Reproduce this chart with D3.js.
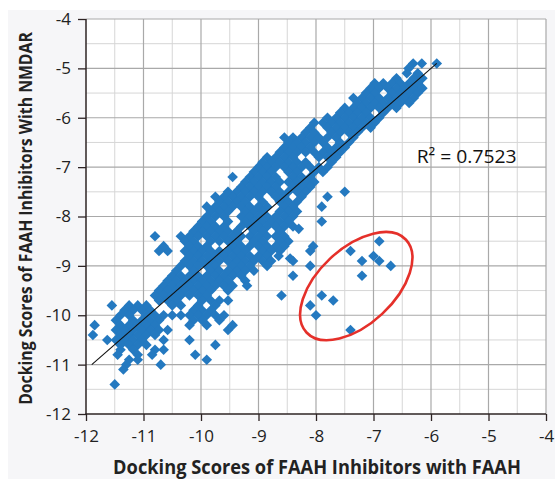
<!DOCTYPE html>
<html><head><meta charset="utf-8">
<script src="https://cdn.jsdelivr.net/npm/d3@7"></script>
<style>
html,body{margin:0;padding:0;background:#fff;}
svg{display:block;}
text{font-family:"Open Sans",sans-serif;}
</style></head><body>
<svg id="chart" width="555" height="479"></svg>
<script>
// ---- data ----
const xTicks = [-12, -11, -10, -9, -8, -7, -6, -5, -4];
const yTicks = [-12, -11, -10, -9, -8, -7, -6, -5, -4];
const xTitle = "Docking Scores of FAAH Inhibitors with FAAH";
const yTitle = "Docking Scores of FAAH Inhibitors With NMDAR";
const r2Label = "R\u00B2 = 0.7523";
const r2Pos = [-6.25, -6.91];
const trendX = [-11.9, -5.9];
const trendY = [-11.0, -4.9];
const ellipseCenter = [-7.3, -9.41];

// rows: [y, [x values]]
const bandUpper = [
  [-4.9, [-6.31, -6.16, -5.9]],
  [-5.0, [-6.39]],
  [-5.1, [-6.42, -6.23]],
  [-5.2, [-6.6, -6.3, -6.15]],
  [-5.3, [-6.98, -6.83, -6.68, -6.53, -6.38, -6.23]],
  [-5.4, [-7.05, -6.9, -6.75, -6.6, -6.45, -6.3, -6.15]],
  [-5.5, [-7.13, -6.98, -6.68, -6.53, -6.38, -6.23]],
  [-5.6, [-7.35, -7.2, -7.05, -6.9, -6.75, -6.6, -6.45, -6.3]],
  [-5.7, [-7.28, -7.13, -6.98, -6.83, -6.68, -6.53, -6.38]],
  [-5.8, [-7.5, -7.35, -7.2, -7.05, -6.9, -6.75, -6.6]],
  [-5.9, [-7.58, -7.43, -7.28, -7.13, -6.83]],
  [-6.0, [-7.8, -7.65, -7.5, -7.35, -7.2, -7.05, -6.9]],
  [-6.1, [-8.03, -7.88, -7.73, -7.58, -7.43, -7.28, -7.13, -6.98]],
  [-6.2, [-8.1, -7.8, -7.65, -7.5, -7.35, -7.2, -7.05]],
  [-6.3, [-8.18, -8.03, -7.73, -7.58, -7.43, -7.28]],
  [-6.4, [-8.55, -8.4, -8.25, -8.1, -7.95, -7.8, -7.65, -7.35]],
  [-6.5, [-8.48, -8.33, -8.18, -8.03, -7.88, -7.58, -7.43]],
  [-6.6, [-8.55, -8.4, -8.25, -8.1, -7.8, -7.65, -7.5]],
  [-6.7, [-8.63, -8.48, -8.33, -8.18, -8.03, -7.88, -7.73, -7.58]],
  [-6.8, [-8.85, -8.7, -8.55, -8.4, -7.95, -7.8, -7.65]],
  [-6.9, [-8.93, -8.78, -8.63, -8.48, -8.33, -8.18, -7.73]]
];
const bandMiddle = [
  [-7.0, [-9.0, -8.85, -8.7, -8.55, -8.4, -8.25, -8.1, -7.95, -7.8]],
  [-7.1, [-9.08, -8.93, -8.78, -8.48, -8.33, -8.03, -7.88]],
  [-7.2, [-9.45, -9.15, -9.0, -8.85, -8.7, -8.4, -8.25, -8.1]],
  [-7.3, [-9.23, -9.08, -8.93, -8.78, -8.63, -8.48, -8.33, -8.18, -8.03]],
  [-7.4, [-9.3, -9.15, -9.0, -8.85, -8.7, -8.4, -8.25, -8.1]],
  [-7.5, [-9.53, -9.38, -9.23, -9.08, -8.93, -8.78, -8.63, -8.48, -8.33, -8.18]],
  [-7.6, [-9.75, -9.6, -9.45, -9.3, -9.15, -9.0, -8.7, -8.55, -8.25]],
  [-7.7, [-9.68, -9.53, -9.38, -9.23, -8.93, -8.63, -8.48, -8.33]],
  [-7.8, [-9.9, -9.75, -9.6, -9.45, -9.3, -9.15, -9.0, -8.85, -8.55, -8.4]],
  [-7.9, [-9.83, -9.68, -9.53, -9.23, -9.08, -8.93, -8.63, -8.48, -8.33]],
  [-8.0, [-9.9, -9.75, -9.6, -9.3, -9.15, -9.0, -8.85, -8.7, -8.55, -8.4]],
  [-8.1, [-9.98, -9.83, -9.53, -9.23, -9.08, -8.93, -8.78, -8.63, -8.48]],
  [-8.2, [-10.05, -9.9, -9.75, -9.6, -9.3, -9.15, -9.0, -8.85, -8.7, -8.55, -8.4]],
  [-8.3, [-10.13, -9.98, -9.83, -9.68, -9.53, -9.38, -9.08, -8.93, -8.63]],
  [-8.4, [-10.35, -10.2, -10.05, -9.9, -9.75, -9.6, -9.45, -9.3, -9.15, -9.0, -8.85, -8.7, -8.55]],
  [-8.5, [-10.28, -10.13, -9.83, -9.68, -9.53, -9.38, -9.08, -8.93, -8.63, -8.48]],
  [-8.6, [-10.2, -10.05, -9.9, -9.45, -9.3, -9.15, -9.0, -8.85, -8.7, -8.55]],
  [-8.7, [-10.73, -10.58, -10.28, -10.13, -9.98, -9.83, -9.68, -9.53, -9.38, -9.23, -8.93, -8.78, -8.63]],
  [-8.8, [-10.2, -10.05, -9.9, -9.75, -9.6, -9.45, -9.3, -9.15, -9.0, -8.85]],
  [-8.9, [-10.28, -10.13, -9.98, -9.83, -9.68, -9.53, -9.38, -9.23, -9.08, -8.93, -8.78]]
];
const bandLower = [
  [-9.0, [-10.35, -10.2, -10.05, -9.9, -9.75, -9.45, -9.3, -9.15, -8.85]],
  [-9.1, [-10.43, -10.13, -9.83, -9.68, -9.53, -9.38, -9.23, -9.08]],
  [-9.2, [-10.5, -10.35, -10.2, -10.05, -9.9, -9.75, -9.6, -9.45, -9.3]],
  [-9.3, [-10.58, -10.43, -10.28, -10.13, -9.98, -9.83, -9.68, -9.53, -9.23]],
  [-9.4, [-10.65, -10.5, -10.35, -10.2, -10.05, -9.9, -9.75, -9.6, -9.45]],
  [-9.5, [-10.73, -10.58, -10.43, -10.28, -10.13, -9.98, -9.83, -9.53]],
  [-9.6, [-10.8, -10.65, -10.5, -10.35, -10.2, -10.05, -9.9]],
  [-9.7, [-10.73, -10.58, -10.43, -9.98, -9.83, -9.68, -9.53]],
  [-9.8, [-11.55, -11.25, -11.1, -10.95, -10.5, -10.35, -10.05, -9.75]],
  [-9.9, [-11.33, -11.18, -11.03, -10.88, -10.13, -9.98, -9.83]],
  [-10.0, [-11.4, -11.25, -10.95, -10.8, -10.65, -10.5, -10.35, -10.2, -10.05, -9.9, -9.75, -9.6]],
  [-10.1, [-11.48, -11.18, -11.03, -10.88, -10.73, -10.13, -9.98, -9.68]],
  [-10.2, [-11.85, -11.4, -11.25, -11.1, -10.95, -10.8, -10.2, -9.9, -9.45]],
  [-10.3, [-11.48, -11.33, -11.18, -11.03, -10.88, -10.73, -10.58, -9.53]],
  [-10.4, [-11.88, -11.4, -11.25, -11.1, -10.95, -10.8]],
  [-10.5, [-11.63, -11.48, -11.33, -11.18, -11.03, -10.65, -10.2]],
  [-10.6, [-11.4, -11.25, -11.1, -10.95, -9.75]],
  [-10.7, [-11.4, -11.18, -10.8, -10.65]],
  [-10.8, [-11.45, -11.1, -10.85, -10.1]],
  [-10.9, [-11.25, -11.1, -9.9]],
  [-11.0, [-11.3, -10.7]],
  [-11.1, [-11.35]],
  [-11.4, [-11.5]]
];
// isolated points [x, y]
const outliers = [
  [-7.5, -7.5], [-7.8, -7.6], [-7.9, -7.8], [-7.9, -8.1], [-8.3, -8.25],
  [-8.05, -8.6], [-8.1, -8.7], [-8.45, -8.85], [-8.4, -8.9], [-8.65, -8.8],
  [-8.1, -9.0], [-8.4, -9.2], [-8.6, -9.6], [-9.2, -9.4], [-10.8, -8.4], [-10.65, -8.6]
];
const circled = [
  [-6.9, -8.5], [-7.4, -8.7], [-7.2, -8.9], [-7.0, -8.8], [-6.9, -8.9], [-6.7, -9.0],
  [-7.2, -9.2], [-7.9, -9.6], [-7.7, -9.7], [-8.1, -9.8], [-8.0, -10.0], [-7.4, -10.3]
];

// ---- drawing ----
const W = 555, H = 479;
const M = {left: 86, right: 9, top: 19, bottom: 65};
const svg = d3.select("#chart");
const x = d3.scaleLinear().domain([-12, -4]).range([M.left, W - M.right]);
const y = d3.scaleLinear().domain([-12, -4]).range([H - M.bottom, M.top]);

svg.append("rect").attr("x", 8).attr("y", 10).attr("width", W - 8).attr("height", H - 10).attr("fill", "#f6f6f8");
svg.append("rect").attr("x", x(-12)).attr("y", y(-4)).attr("width", x(-4) - x(-12)).attr("height", y(-12) - y(-4)).attr("fill", "#ffffff");

const minor = d3.range(-11.5, -4, 1);
const grid = svg.append("g");
grid.selectAll(".mx").data(minor).join("line")
  .attr("x1", d => x(d)).attr("x2", d => x(d)).attr("y1", y(-4)).attr("y2", y(-12))
  .attr("stroke", "#d6d6d6").attr("stroke-width", 1);
grid.selectAll(".my").data(minor).join("line")
  .attr("y1", d => y(d)).attr("y2", d => y(d)).attr("x1", x(-12)).attr("x2", x(-4))
  .attr("stroke", "#d6d6d6").attr("stroke-width", 1);
grid.selectAll(".Mx").data(xTicks.slice(1)).join("line")
  .attr("x1", d => x(d)).attr("x2", d => x(d)).attr("y1", y(-4)).attr("y2", y(-12))
  .attr("stroke", "#a9a9a9").attr("stroke-width", 1.2);
grid.selectAll(".My").data(yTicks.slice(1)).join("line")
  .attr("y1", d => y(d)).attr("y2", d => y(d)).attr("x1", x(-12)).attr("x2", x(-4))
  .attr("stroke", "#a9a9a9").attr("stroke-width", 1.2);

const rowsToPts = rows => rows.flatMap(([yy, xs]) => xs.map(xx => [xx, yy]));
const points = [...rowsToPts(bandUpper), ...rowsToPts(bandMiddle), ...rowsToPts(bandLower), ...outliers, ...circled];
const r = 5.3;
const diamond = `M0,${-r}L${r},0L0,${r}L${-r},0Z`;
svg.append("g").selectAll("path").data(points).join("path")
  .attr("d", diamond)
  .attr("transform", d => `translate(${x(d[0])},${y(d[1])})`)
  .attr("fill", "#2479c0");

svg.append("line")
  .attr("x1", x(trendX[0])).attr("y1", y(trendY[0]))
  .attr("x2", x(trendX[1])).attr("y2", y(trendY[1]))
  .attr("stroke", "#111").attr("stroke-width", 1.1);

const ecx = x(ellipseCenter[0]), ecy = y(ellipseCenter[1]);
svg.append("ellipse").attr("cx", ecx).attr("cy", ecy).attr("rx", 68).attr("ry", 38)
  .attr("transform", `rotate(-43,${ecx},${ecy})`)
  .attr("fill", "none").attr("stroke", "#e5302a").attr("stroke-width", 2.6);

// axes
const axisColor = "#2e2424";
const fmt = d => String(d);
const gx = svg.append("g").attr("transform", `translate(0,${y(-12)})`)
  .call(d3.axisBottom(x).tickValues(xTicks).tickSize(7).tickPadding(9).tickFormat(fmt));
const gy = svg.append("g").attr("transform", `translate(${x(-12)},0)`)
  .call(d3.axisLeft(y).tickValues(yTicks).tickSize(8).tickPadding(7).tickFormat(fmt));
[gx, gy].forEach(g => {
  g.select(".domain").remove();
  g.selectAll(".tick line").attr("stroke", axisColor).attr("stroke-width", 1.3);
  g.selectAll(".tick text").attr("fill", "#222").attr("font-size", 17).attr("font-family", "'Open Sans', sans-serif");
});
svg.append("line").attr("x1", x(-12)).attr("x2", x(-12)).attr("y1", y(-4)).attr("y2", y(-12) + 0.6)
  .attr("stroke", axisColor).attr("stroke-width", 1.5);
svg.append("line").attr("x1", x(-12) - 0.6).attr("x2", x(-4)).attr("y1", y(-12)).attr("y2", y(-12))
  .attr("stroke", axisColor).attr("stroke-width", 1.5);

// text fitted to a target width with a horizontal scale
function fitted(sel, target, base) {
  const len = sel.node().getComputedTextLength();
  const s = Math.min(1.15, target / len);
  sel.attr("transform", `${base} scale(${s},1)`);
}
const r2 = svg.append("text").text(r2Label)
  .attr("font-size", 18.5).attr("fill", "#111");
fitted(r2, 100, `translate(${x(r2Pos[0])},${y(r2Pos[1])})`);

const xt = svg.append("text").text(xTitle).attr("text-anchor", "middle")
  .attr("font-size", 19).attr("font-weight", "bold").attr("fill", "#222");
fitted(xt, 408, "translate(317,474)");
const yt = svg.append("text").text(yTitle).attr("text-anchor", "middle")
  .attr("font-size", 18).attr("font-weight", "bold").attr("fill", "#222");
fitted(yt, 373, "translate(31.5,218.5) rotate(-90)");
</script>
</body></html>
